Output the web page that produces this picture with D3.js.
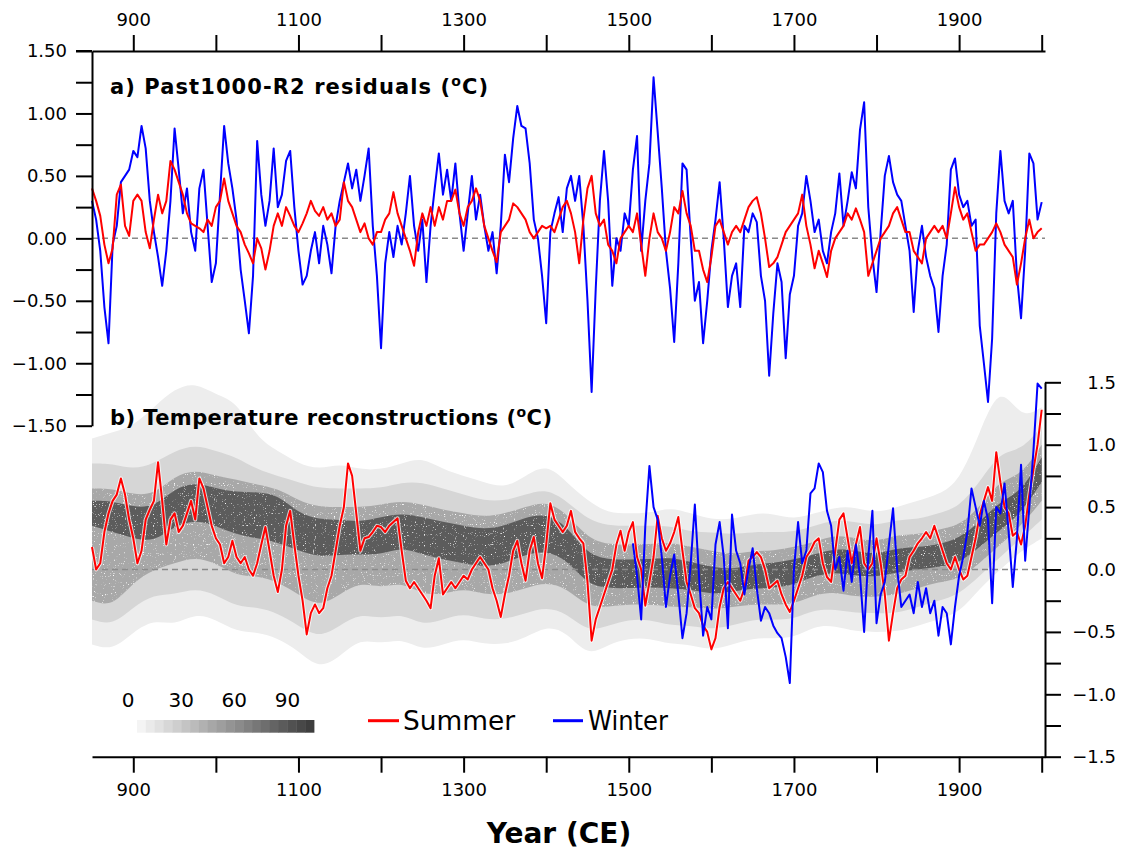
<!DOCTYPE html>
<html>
<head>
<meta charset="utf-8">
<script src="https://cdn.jsdelivr.net/npm/d3@7"></script>
<style>
  html, body { margin: 0; padding: 0; background: #fff; }
  svg { display: block; font-family: "DejaVu Sans", sans-serif; }
</style>
</head>
<body>
<svg id="chart" width="1121" height="852"></svg>
<script>
// ---------------------------------------------------------------
// Data: 5-year samples from 850 CE onwards
// ---------------------------------------------------------------
const residStart = 850, residStep = 5;

// a) Past1000-R2 residuals, winter (°C)
const residWinter = [
  0.30, 0.15, -0.10, -0.55, -0.84, -0.05, 0.10, 0.45, 0.50, 0.55,
  0.70, 0.65, 0.90, 0.72, 0.30, 0.05, -0.15, -0.38, -0.10, 0.30,
  0.88, 0.55, 0.20, 0.40, 0.05, -0.10, 0.40, 0.55, 0.10, -0.35,
  -0.20, 0.35, 0.90, 0.60, 0.40, 0.15, -0.25, -0.50, -0.76, -0.30,
  0.78, 0.35, 0.10, 0.30, 0.72, 0.25, 0.35, 0.62, 0.70, 0.25,
  -0.10, -0.37, -0.30, -0.10, 0.05, -0.20, 0.10, -0.05, -0.28, 0.10,
  0.30, 0.45, 0.60, 0.40, 0.55, 0.30, 0.50, 0.72, 0.10, -0.30,
  -0.88, -0.20, 0.05, -0.15, 0.10, -0.05, 0.20, 0.50, 0.10, -0.10,
  0.15, -0.35, 0.10, 0.40, 0.68, 0.35, 0.55, 0.30, 0.60, 0.20,
  -0.10, 0.20, 0.50, 0.15, 0.35, 0.10, -0.10, 0.05, -0.28, 0.10,
  0.67, 0.45, 0.80, 1.06, 0.90, 0.88, 0.60, 0.15, 0.00, -0.30,
  -0.68, 0.05, 0.20, 0.33, 0.05, 0.40, 0.50, 0.30, 0.50, 0.10,
  -0.50, -1.23, -0.40, 0.30, 0.70, 0.30, -0.38, 0.00, -0.10, 0.20,
  0.10, 0.55, 0.82, -0.10, 0.30, 0.60, 1.29, 0.85, 0.40, -0.10,
  -0.40, -0.83, -0.20, 0.60, 0.55, 0.00, -0.50, -0.35, -0.84, -0.50,
  -0.10, 0.15, 0.45, 0.00, -0.55, -0.30, -0.20, -0.55, 0.10, 0.05,
  0.20, 0.13, -0.30, -0.50, -1.10, -0.60, -0.20, -0.35, -0.96, -0.45,
  -0.30, 0.10, 0.20, 0.50, 0.30, 0.05, 0.15, -0.10, -0.20, 0.05,
  0.20, 0.52, 0.10, 0.30, 0.53, 0.40, 0.87, 1.09, 0.25, -0.15,
  -0.43, 0.05, 0.50, 0.66, 0.45, 0.35, 0.30, 0.10, -0.10, -0.59,
  -0.10, 0.10, -0.15, -0.30, -0.40, -0.75, -0.30, -0.05, 0.55, 0.64,
  0.35, 0.25, 0.30, 0.10, 0.15, -0.70, -1.00, -1.31, -0.80, 0.20,
  0.70, 0.30, 0.20, 0.30, -0.30, -0.64, -0.10, 0.68, 0.60, 0.15,
  0.29
];

// a) Past1000-R2 residuals, summer (°C)
const residSummer = [
  0.40, 0.30, 0.18, -0.05, -0.20, -0.08, 0.35, 0.43, 0.10, 0.02,
  0.30, 0.35, 0.30, 0.05, -0.08, 0.15, 0.35, 0.20, 0.30, 0.62,
  0.55, 0.45, 0.35, 0.20, 0.12, 0.10, 0.08, 0.05, 0.15, 0.10,
  0.25, 0.30, 0.48, 0.30, 0.20, 0.10, 0.05, -0.05, -0.12, -0.20,
  0.00, -0.08, -0.25, -0.10, 0.10, 0.20, 0.10, 0.25, 0.18, 0.10,
  0.05, 0.12, 0.20, 0.30, 0.22, 0.18, 0.25, 0.15, 0.20, 0.10,
  0.15, 0.45, 0.30, 0.25, 0.15, 0.05, 0.12, 0.00, -0.05, 0.05,
  0.05, 0.15, 0.20, 0.37, 0.20, 0.10, 0.00, -0.10, -0.22, 0.05,
  0.20, 0.10, 0.25, 0.10, 0.25, 0.15, 0.30, 0.30, 0.39, 0.20,
  0.10, 0.25, 0.30, 0.40, 0.30, 0.10, 0.00, -0.10, -0.19, 0.05,
  0.10, 0.15, 0.28, 0.25, 0.20, 0.15, 0.05, 0.00, 0.05, 0.10,
  0.08, 0.10, 0.05, 0.15, 0.25, 0.30, 0.20, 0.05, -0.20, 0.15,
  0.40, 0.50, 0.20, 0.10, 0.15, -0.05, -0.10, -0.20, 0.00, 0.05,
  0.10, 0.05, 0.20, -0.05, -0.30, 0.00, 0.20, 0.05, 0.00, -0.10,
  0.05, 0.25, 0.20, 0.38, 0.20, 0.10, -0.10, -0.10, -0.25, -0.35,
  -0.15, 0.10, 0.15, 0.05, -0.05, 0.05, 0.10, 0.05, 0.15, 0.25,
  0.30, 0.33, 0.20, 0.00, -0.23, -0.20, -0.15, -0.05, 0.05, 0.10,
  0.15, 0.20, 0.35, 0.10, -0.05, -0.24, -0.10, -0.20, -0.31, -0.10,
  0.00, 0.05, 0.10, 0.20, 0.15, 0.24, 0.15, 0.05, -0.30, -0.20,
  -0.10, 0.00, 0.05, 0.10, 0.20, 0.25, 0.15, 0.05, 0.05, -0.10,
  -0.15, -0.20, 0.00, 0.05, 0.10, 0.05, 0.10, 0.00, 0.20, 0.41,
  0.25, 0.15, 0.20, 0.05, -0.10, -0.05, -0.05, 0.00, 0.05, 0.12,
  0.05, -0.05, -0.10, -0.15, -0.37, -0.20, 0.00, 0.15, 0.00, 0.05,
  0.08
];

// b) Summer temperature reconstruction (°C), 850-2000
const reconSummer = [
  0.18, 0.00, 0.05, 0.30, 0.45, 0.55, 0.60, 0.73, 0.60, 0.40,
  0.25, 0.05, 0.15, 0.40, 0.48, 0.55, 0.86, 0.55, 0.20, 0.40,
  0.45, 0.30, 0.35, 0.45, 0.55, 0.40, 0.73, 0.65, 0.50, 0.35,
  0.25, 0.20, 0.05, 0.10, 0.23, 0.10, 0.05, 0.10, 0.00, -0.05,
  0.05, 0.20, 0.34, 0.15, -0.05, -0.18, 0.00, 0.35, 0.47, 0.20,
  -0.05, -0.25, -0.52, -0.35, -0.28, -0.35, -0.31, -0.15, -0.05, 0.15,
  0.35, 0.50, 0.85, 0.75, 0.45, 0.15, 0.25, 0.26, 0.30, 0.35,
  0.34, 0.30, 0.35, 0.38, 0.41, 0.15, -0.09, -0.15, -0.10, -0.15,
  -0.20, -0.25, -0.31, -0.05, 0.09, -0.20, -0.15, -0.10, -0.15, -0.10,
  -0.05, -0.08, 0.00, 0.05, 0.10, 0.05, 0.00, -0.15, -0.25, -0.38,
  -0.20, -0.05, 0.15, 0.23, 0.05, -0.09, 0.15, 0.26, 0.05, -0.07,
  0.20, 0.53, 0.40, 0.35, 0.30, 0.35, 0.47, 0.30, 0.25, 0.21,
  -0.10, -0.57, -0.40, -0.30, -0.20, -0.10, 0.00, 0.20, 0.31, 0.15,
  0.30, 0.38, 0.10, 0.00, -0.29, -0.10, 0.10, 0.43, 0.25, 0.15,
  0.21, 0.30, 0.42, 0.15, -0.10, -0.20, -0.31, -0.35, -0.45, -0.50,
  -0.64, -0.55, -0.30, -0.15, -0.10, -0.15, -0.20, -0.25, -0.15, 0.07,
  0.10, 0.14, 0.10, 0.00, -0.15, -0.12, -0.09, -0.20, -0.28, -0.34,
  -0.25, -0.15, -0.05, 0.10, 0.15, 0.22, 0.25, 0.05, -0.06, -0.10,
  0.15, 0.40, 0.45, 0.25, 0.05, 0.20, 0.34, 0.05, 0.00, 0.05,
  0.25, 0.05, -0.20, -0.57, -0.35, -0.15, -0.08, -0.05, 0.10, 0.15,
  0.21, 0.25, 0.30, 0.25, 0.35, 0.25, 0.15, 0.05, 0.00, 0.10,
  0.00, -0.08, -0.05, 0.10, 0.25, 0.44, 0.55, 0.66, 0.55, 0.94,
  0.70, 0.50, 0.45, 0.27, 0.30, 0.20, 0.35, 0.60, 0.80, 1.00,
  1.28
];

// b) Winter temperature reconstruction (°C), 1505-2000
const winterStart = 1505;
const reconWinter = [
  0.21, -0.05, -0.40, 0.35, 0.83, 0.50, 0.40, 0.10, -0.30, -0.05,
  0.12, -0.20, -0.55, -0.35, 0.05, 0.52, -0.05, -0.53, -0.30, -0.40,
  0.20, 0.38, 0.10, -0.47, 0.44, 0.15, 0.05, -0.20, 0.00, 0.17,
  -0.15, -0.41, -0.30, -0.35, -0.45, -0.51, -0.55, -0.70, -0.91, 0.00,
  0.38, 0.05, 0.15, 0.61, 0.65, 0.85, 0.78, 0.47, 0.35, 0.00,
  0.10, -0.17, 0.15, -0.10, 0.20, -0.05, -0.50, 0.10, 0.47, -0.43,
  -0.20, -0.10, 0.20, 0.49, 0.00, -0.30, -0.25, -0.20, -0.35, -0.10,
  -0.30, -0.15, -0.35, -0.25, -0.53, -0.30, -0.35, -0.60, -0.30, -0.05,
  0.10, 0.30, 0.65, 0.50, 0.35, 0.55, 0.40, -0.27, 0.50, 0.45,
  0.69, 0.30, -0.14, 0.25, 0.84, 0.07, 0.50, 0.95, 1.49, 1.45
];

// b) Ensemble density envelopes (°C), 25-year samples 850-2000
const bandStep = 25;
const outerHi = [1.05, 1.10, 1.15, 1.30, 1.45, 1.50, 1.40, 1.35, 1.05, 0.95,
  0.85, 0.80, 0.85, 0.80, 0.80, 0.85, 0.90, 0.80, 0.75, 0.70,
  0.65, 0.75, 0.85, 0.70, 0.55, 0.45, 0.45, 0.45, 0.50, 0.45,
  0.40, 0.40, 0.45, 0.45, 0.40, 0.45, 0.50, 0.50, 0.45, 0.50,
  0.55, 0.60, 0.70, 1.10, 1.50, 1.20, 1.30];
const outerLo = [-0.60, -0.65, -0.50, -0.40, -0.45, -0.35, -0.40, -0.50, -0.50, -0.55,
  -0.65, -0.80, -0.70, -0.55, -0.60, -0.55, -0.65, -0.60, -0.55, -0.60,
  -0.60, -0.55, -0.45, -0.50, -0.70, -0.60, -0.55, -0.55, -0.60, -0.60,
  -0.65, -0.60, -0.55, -0.55, -0.55, -0.45, -0.45, -0.50, -0.50, -0.50,
  -0.45, -0.40, -0.35, -0.15, 0.00, 0.15, 0.25];
const midHi = [0.85, 0.85, 0.80, 0.85, 0.95, 1.00, 0.95, 0.90, 0.80, 0.75,
  0.70, 0.65, 0.65, 0.65, 0.65, 0.70, 0.70, 0.65, 0.60, 0.55,
  0.55, 0.60, 0.65, 0.55, 0.40, 0.35, 0.35, 0.35, 0.35, 0.30,
  0.30, 0.28, 0.30, 0.30, 0.30, 0.35, 0.40, 0.38, 0.35, 0.40,
  0.40, 0.45, 0.50, 0.70, 0.95, 0.95, 1.15];
const midLo = [-0.40, -0.45, -0.30, -0.20, -0.20, -0.15, -0.20, -0.30, -0.30, -0.35,
  -0.45, -0.55, -0.45, -0.35, -0.40, -0.35, -0.45, -0.40, -0.35, -0.40,
  -0.40, -0.35, -0.30, -0.35, -0.50, -0.45, -0.40, -0.40, -0.45, -0.45,
  -0.48, -0.45, -0.40, -0.40, -0.40, -0.32, -0.32, -0.35, -0.35, -0.35,
  -0.30, -0.25, -0.20, -0.05, 0.10, 0.25, 0.40];
const innerHi = [0.65, 0.65, 0.60, 0.60, 0.75, 0.80, 0.75, 0.72, 0.68, 0.65,
  0.55, 0.50, 0.50, 0.50, 0.52, 0.55, 0.52, 0.48, 0.45, 0.42,
  0.45, 0.50, 0.55, 0.45, 0.25, 0.20, 0.20, 0.20, 0.22, 0.18,
  0.15, 0.12, 0.15, 0.15, 0.18, 0.22, 0.28, 0.25, 0.22, 0.28,
  0.28, 0.32, 0.35, 0.50, 0.72, 0.75, 1.00];
const innerLo = [-0.25, -0.30, -0.10, 0.00, 0.05, 0.10, 0.05, -0.05, -0.05, -0.10,
  -0.20, -0.30, -0.20, -0.10, -0.15, -0.10, -0.20, -0.20, -0.15, -0.20,
  -0.20, -0.15, -0.10, -0.15, -0.30, -0.30, -0.28, -0.28, -0.30, -0.30,
  -0.32, -0.30, -0.28, -0.28, -0.28, -0.20, -0.18, -0.22, -0.22, -0.20,
  -0.15, -0.10, -0.08, 0.05, 0.20, 0.35, 0.55];
const coreHi = [0.55, 0.55, 0.50, 0.50, 0.65, 0.70, 0.65, 0.62, 0.62, 0.60,
  0.45, 0.40, 0.40, 0.38, 0.42, 0.45, 0.42, 0.38, 0.35, 0.32,
  0.35, 0.42, 0.45, 0.35, 0.12, 0.08, 0.08, 0.08, 0.10, 0.06,
  0.02, 0.00, 0.04, 0.05, 0.08, 0.12, 0.17, 0.15, 0.12, 0.17,
  0.18, 0.20, 0.25, 0.38, 0.55, 0.62, 0.90];
const coreLo = [0.35, 0.30, 0.25, 0.22, 0.35, 0.40, 0.35, 0.28, 0.25, 0.22,
  0.15, 0.10, 0.12, 0.12, 0.12, 0.18, 0.12, 0.08, 0.05, 0.02,
  0.05, 0.12, 0.15, 0.08, -0.12, -0.15, -0.15, -0.14, -0.15, -0.16,
  -0.20, -0.18, -0.15, -0.15, -0.12, -0.05, -0.02, -0.05, -0.06, -0.02,
  0.00, 0.02, 0.05, 0.18, 0.32, 0.45, 0.70];

// Axis ticks and labels
const yearTicks = [900, 1000, 1100, 1200, 1300, 1400, 1500, 1600, 1700, 1800, 1900, 2000];
const yearLabels = [900, 1100, 1300, 1500, 1700, 1900];
const tempTicks = [-1.5, -1.25, -1.0, -0.75, -0.5, -0.25, 0, 0.25, 0.5, 0.75, 1.0, 1.25, 1.5];
const tempLabels = [-1.5, -1.0, -0.5, 0, 0.5, 1.0, 1.5];

// Colour bar (percent of ensemble members)
const densityLevels = [0, 5, 10, 15, 20, 25, 30, 35, 40, 45, 50, 55, 60, 65, 70, 75, 80, 85, 90, 95];
const densityLabels = [0, 30, 60, 90];

const titleA = "a) Past1000-R2 residuals (";
const titleB = "b) Temperature reconstructions (";
const seriesNames = ["Summer", "Winter"];
const seriesColors = ["#ff0000", "#0000ff"];

// ---------------------------------------------------------------
// Layout
// ---------------------------------------------------------------
const svg = d3.select("#chart");
const x = d3.scaleLinear().domain([850, 2004]).range([92, 1045]);
const yA = d3.scaleLinear().domain([-1.5, 1.5]).range([425.7, 51]);
const yB = d3.scaleLinear().domain([-1.5, 1.5]).range([756.7, 382.3]);

const toPoints = (vals, start, step) => vals.map((v, i) => ({ year: start + i * step, v }));

// Fine speckle used inside the darker density shading
const defs = svg.append("defs");
const f = defs.append("filter").attr("id", "speckle")
  .attr("x", 0).attr("y", 0).attr("width", "100%").attr("height", "100%")
  .attr("color-interpolation-filters", "sRGB");
f.append("feTurbulence").attr("type", "fractalNoise").attr("baseFrequency", 0.9)
  .attr("numOctaves", 1).attr("seed", 4).attr("result", "noise");
f.append("feColorMatrix").attr("in", "noise").attr("type", "matrix")
  .attr("values", "0 0 0 0 1  0 0 0 0 1  0 0 0 0 1  -7 0 0 0 2.5").attr("result", "dots");
f.append("feComposite").attr("in", "dots").attr("in2", "SourceAlpha").attr("operator", "in").attr("result", "dotsIn");
const fm = f.append("feMerge");
fm.append("feMergeNode").attr("in", "SourceGraphic");
fm.append("feMergeNode").attr("in", "dotsIn");

// ---------------------------------------------------------------
// Panel b: density shading
// ---------------------------------------------------------------
const bandYears = outerHi.map((_, i) => 850 + i * bandStep);
const bands = [
  { hi: outerHi, lo: outerLo, fill: "#ededed", grain: false },
  { hi: midHi, lo: midLo, fill: "#d6d6d6", grain: false },
  { hi: innerHi, lo: innerLo, fill: "#a8a8a8", grain: true },
  { hi: coreHi, lo: coreLo, fill: "#5c5c5c", grain: true }
];
const bandArea = d3.area()
  .x(d => x(d.year)).y0(d => yB(d.lo)).y1(d => yB(d.hi))
  .curve(d3.curveBasis);
const gBands = svg.append("g");
bands.forEach(b => {
  const pts = bandYears.map((yr, i) => ({ year: yr, hi: b.hi[i], lo: b.lo[i] }));
  gBands.append("path").datum(pts)
    .attr("d", bandArea).attr("fill", b.fill)
    .attr("filter", b.grain ? "url(#speckle)" : null);
});

// Zero reference lines
[yA, yB].forEach(ys => {
  svg.append("line")
    .attr("x1", x(850)).attr("x2", x(2004))
    .attr("y1", ys(0)).attr("y2", ys(0))
    .attr("stroke", "#8a8a8a").attr("stroke-width", 1.5)
    .attr("stroke-dasharray", "6,4");
});

// ---------------------------------------------------------------
// Series lines
// ---------------------------------------------------------------
const lineA = d3.line().x(d => x(d.year)).y(d => yA(d.v));
const lineB = d3.line().x(d => x(d.year)).y(d => yB(d.v));

svg.append("path").datum(toPoints(residWinter, residStart, residStep))
  .attr("d", lineA).attr("fill", "none").attr("stroke", seriesColors[1])
  .attr("stroke-width", 2).attr("stroke-linejoin", "round");
svg.append("path").datum(toPoints(residSummer, residStart, residStep))
  .attr("d", lineA).attr("fill", "none").attr("stroke", seriesColors[0])
  .attr("stroke-width", 2).attr("stroke-linejoin", "round");

const summerPts = toPoints(reconSummer, residStart, residStep);
svg.append("path").datum(summerPts)
  .attr("d", lineB).attr("fill", "none").attr("stroke", "#ffffff")
  .attr("stroke-opacity", 0.75).attr("stroke-width", 4).attr("stroke-linejoin", "round");
svg.append("path").datum(summerPts)
  .attr("d", lineB).attr("fill", "none").attr("stroke", seriesColors[0])
  .attr("stroke-width", 2).attr("stroke-linejoin", "round");
svg.append("path").datum(toPoints(reconWinter, winterStart, residStep))
  .attr("d", lineB).attr("fill", "none").attr("stroke", seriesColors[1])
  .attr("stroke-width", 2).attr("stroke-linejoin", "round");

// ---------------------------------------------------------------
// Axes
// ---------------------------------------------------------------
const fmtYear = d => yearLabels.includes(d) ? String(d) : "";
const fmtLeft = d => tempLabels.some(t => Math.abs(t - d) < 1e-9) ? d3.format(".2f")(d) : "";
const fmtRight = d => tempLabels.some(t => Math.abs(t - d) < 1e-9) ? d3.format(".1f")(d) : "";

function styleAxis(g) {
  g.select(".domain").attr("stroke", "#000").attr("stroke-width", 2);
  g.selectAll(".tick line").attr("stroke", "#000").attr("stroke-width", 2);
  g.selectAll(".tick text").attr("fill", "#000")
    .attr("font-family", "DejaVu Sans, sans-serif").attr("font-size", 18);
}

svg.append("g").attr("transform", `translate(0,${yA(1.5)})`)
  .call(d3.axisTop(x).tickValues(yearTicks).tickFormat(fmtYear)
    .tickSize(16).tickSizeOuter(0).tickPadding(9))
  .call(styleAxis);

svg.append("g").attr("transform", `translate(0,${yB(-1.5)})`)
  .call(d3.axisBottom(x).tickValues(yearTicks).tickFormat(fmtYear)
    .tickSize(16).tickSizeOuter(0).tickPadding(11))
  .call(styleAxis);

svg.append("g").attr("transform", `translate(${x(850)},0)`)
  .call(d3.axisLeft(yA).tickValues(tempTicks).tickFormat(fmtLeft)
    .tickSize(16).tickSizeOuter(0).tickPadding(9))
  .call(styleAxis);

const gR = svg.append("g").attr("transform", `translate(${x(2004)},0)`)
  .call(d3.axisRight(yB).tickValues(tempTicks).tickFormat(fmtRight)
    .tickSize(16).tickSizeOuter(0))
  .call(styleAxis);
gR.selectAll(".tick text").attr("text-anchor", "end").attr("x", 71);

// Top line continues left over the outward tick at 1.50
svg.append("line").attr("x1", 76).attr("x2", x(850))
  .attr("y1", yA(1.5)).attr("y2", yA(1.5))
  .attr("stroke", "#000").attr("stroke-width", 2);

// ---------------------------------------------------------------
// Titles
// ---------------------------------------------------------------
function panelTitle(text, yPos, len) {
  const t = svg.append("text").attr("x", 110).attr("y", yPos)
    .attr("font-size", 21).attr("font-weight", "bold").attr("fill", "#000")
    .attr("textLength", len).attr("lengthAdjust", "spacing");
  t.append("tspan").text(text);
  t.append("tspan").attr("font-size", 14).attr("dy", -8).text("o");
  t.append("tspan").attr("dy", 8).text("C)");
}
panelTitle(titleA, 94.3, 378);
panelTitle(titleB, 425, 442);

svg.append("text").attr("x", 559).attr("y", 843)
  .attr("text-anchor", "middle").attr("font-size", 28).attr("font-weight", "bold")
  .attr("fill", "#000").text("Year (CE)");

// ---------------------------------------------------------------
// Legend: density colour bar and series keys
// ---------------------------------------------------------------
const xLeg = d3.scaleLinear().domain([0, 100]).range([137, 314]);
const shade = d3.scaleLinear().domain([0, 95]).range(["#f4f4f4", "#3e3e3e"]);
const boxW = xLeg(5) - xLeg(0);
svg.append("g").selectAll("rect").data(densityLevels).join("rect")
  .attr("x", d => xLeg(d)).attr("y", 720).attr("width", boxW + 0.4).attr("height", 12.7)
  .attr("fill", d => shade(d));
svg.append("g").selectAll("text").data(densityLabels).join("text")
  .attr("x", d => xLeg(d) - boxW).attr("y", 706.7)
  .attr("text-anchor", "middle").attr("font-size", 20).attr("fill", "#000")
  .text(d => d);

const keyPos = [{ x0: 368, x1: 399, tx: 403, len: 112 }, { x0: 553, x1: 583, tx: 588, len: 80 }];
seriesNames.forEach((name, i) => {
  const k = keyPos[i];
  svg.append("line").attr("x1", k.x0).attr("x2", k.x1).attr("y1", 720.7).attr("y2", 720.7)
    .attr("stroke", seriesColors[i]).attr("stroke-width", 3);
  svg.append("text").attr("x", k.tx).attr("y", 730).attr("font-size", 26)
    .attr("fill", "#000").attr("textLength", k.len).attr("lengthAdjust", "spacingAndGlyphs")
    .text(name);
});
</script>
</body>
</html>
